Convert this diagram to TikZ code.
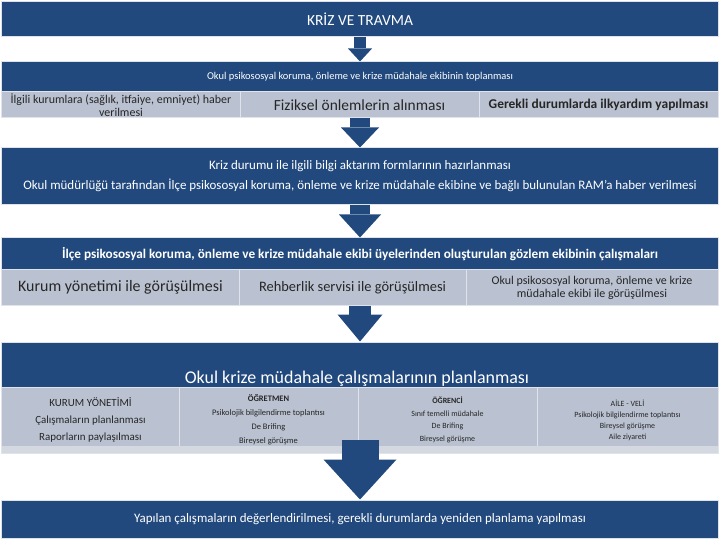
\documentclass[tikz,border=0pt]{standalone}
\usepackage{fontspec}
\setmainfont{Carlito}
\usetikzlibrary{arrows.meta}

\definecolor{koyumavi}{RGB}{33,73,125}
\definecolor{acikmavi}{RGB}{186,194,209}
\definecolor{seritgri}{RGB}{212,217,225}
\definecolor{kenargri}{RGB}{222,227,233}

\begin{document}
\begin{tikzpicture}[x=1bp, y=-1bp,
    koyukutu/.style={fill=koyumavi, draw=kenargri, line width=1bp, text=white,
        minimum width=716bp, inner sep=0pt, align=center},
    acikkutu/.style={fill=acikmavi, draw=white!55!acikmavi, line width=1bp,
        text=black!85, inner sep=0pt, align=center},
    okblok/.style n args={3}{draw=koyumavi, line width=#1,
        -{Triangle[width=#2, length=#3, line width=0pt]}}]

    % 0. Sayfa sınırı
    \useasboundingbox (0,0) rectangle (720,540);

    % 1. Başlık kutusu
    \node[koyukutu, minimum height=35bp, font=\fontsize{15.5}{18}\selectfont]
        (baslik) at (360,19.5) {KRİZ VE TRAVMA};

    % 2. Ekibin toplanması ve alt kutular
    \node[koyukutu, minimum height=30bp, font=\fontsize{10.5}{12}\selectfont]
        (toplanma) at (360,77) {Okul psikososyal koruma, önleme ve krize müdahale ekibinin toplanması};
    \node[acikkutu, minimum width=238bp, minimum height=26bp, font=\fontsize{12}{13}\selectfont]
        (kurumlar) at (121,105) {İlgili kurumlara (sağlık, itfaiye, emniyet) haber\\verilmesi};
    \node[acikkutu, minimum width=239bp, minimum height=26bp, font=\fontsize{15.5}{17}\selectfont]
        (fiziksel) at (359.5,105) {Fiziksel önlemlerin alınması};
    \node[acikkutu, minimum width=239bp, minimum height=26bp, font=\bfseries\fontsize{13.5}{15}\selectfont]
        (ilkyardim) at (598.5,105) {Gerekli durumlarda ilkyardım yapılması};

    % 3. Bilgi aktarımı
    \node[koyukutu, minimum height=57bp, font=\fontsize{13}{20}\selectfont]
        (bilgi) at (360,176.5) {Kriz durumu ile ilgili bilgi aktarım formlarının hazırlanması\\
        Okul müdürlüğü tarafından İlçe psikososyal koruma, önleme ve krize müdahale ekibine ve bağlı bulunulan RAM'a haber verilmesi};

    % 4. Gözlem ekibinin çalışmaları ve alt kutular
    \node[koyukutu, minimum height=32bp, font=\bfseries\fontsize{13.3}{15}\selectfont]
        (gozlem) at (360,254) {İlçe psikososyal koruma, önleme ve krize müdahale ekibi üyelerinden oluşturulan gözlem ekibinin çalışmaları};
    \node[acikkutu, minimum width=237bp, minimum height=35bp, font=\fontsize{16}{18}\selectfont]
        (yonetim) at (120.5,287.5) {Kurum yönetimi ile görüşülmesi};
    \node[acikkutu, minimum width=227bp, minimum height=35bp, font=\fontsize{14.5}{17}\selectfont]
        (rehber) at (352.5,287.5) {Rehberlik servisi ile görüşülmesi};
    \node[acikkutu, minimum width=252bp, minimum height=35bp, font=\fontsize{12}{13}\selectfont]
        (ekip) at (592,287.5) {Okul psikososyal koruma, önleme ve krize\\müdahale ekibi ile görüşülmesi};

    % 5. Planlama ve sütunlar
    \node[koyukutu, minimum height=45bp] (planlama) at (360,364.5) {};
    \node[anchor=base, text=white, font=\fontsize{18}{21}\selectfont]
        (planlamayazi) at (357,383) {Okul krize müdahale çalışmalarının planlanması};
    \node[acikkutu, minimum width=177bp, minimum height=66bp, font=\fontsize{11}{17}\selectfont]
        (kurum) at (90.5,420) {KURUM YÖNETİMİ\\Çalışmaların planlanması\\Raporların paylaşılması};
    \node[acikkutu, minimum width=179bp, minimum height=66bp, font=\fontsize{8.5}{14}\selectfont]
        (ogretmen) at (268.5,420) {\textbf{ÖĞRETMEN}\\Psikolojik bilgilendirme toplantısı\\De Brifing\\Bireysel görüşme};
    \node[acikkutu, minimum width=179bp, minimum height=66bp, font=\fontsize{8}{12.5}\selectfont]
        (ogrenci) at (447.5,420) {\textbf{ÖĞRENCİ}\\Sınıf temelli müdahale\\De Brifing\\Bireysel görüşme};
    \node[acikkutu, minimum width=181bp, minimum height=66bp, font=\fontsize{8}{11}\selectfont]
        (aile) at (627.5,420) {AİLE - VELİ\\Psikolojik bilgilendirme toplantısı\\Bireysel görüşme\\Aile ziyareti};
    % alt şerit
    \fill[seritgri] (2,446) rectangle (718,453);

    % 6. Sonuç kutusu
    \node[koyukutu, minimum height=38bp, font=\fontsize{13}{15}\selectfont]
        (sonuc) at (360,519) {Yapılan çalışmaların değerlendirilmesi, gerekli durumlarda yeniden planlama yapılması};

    % 7. Oklar
    \coordinate (ok5bas) at (360,440);
    \draw[okblok={12bp}{24bp}{13bp}] (baslik.south) -- (toplanma.north);
    \draw[okblok={20bp}{38bp}{20bp}] (bilgi.north |- fiziksel.south) -- (bilgi.north);
    \draw[okblok={20bp}{42bp}{23bp}] (bilgi.south) -- (gozlem.north);
    \draw[okblok={22bp}{45bp}{27bp}] (planlama.north |- rehber.south) -- (planlama.north);
    \draw[okblok={37bp}{73bp}{40bp}] (ok5bas) -- (sonuc.north);

\end{tikzpicture}
\end{document}
